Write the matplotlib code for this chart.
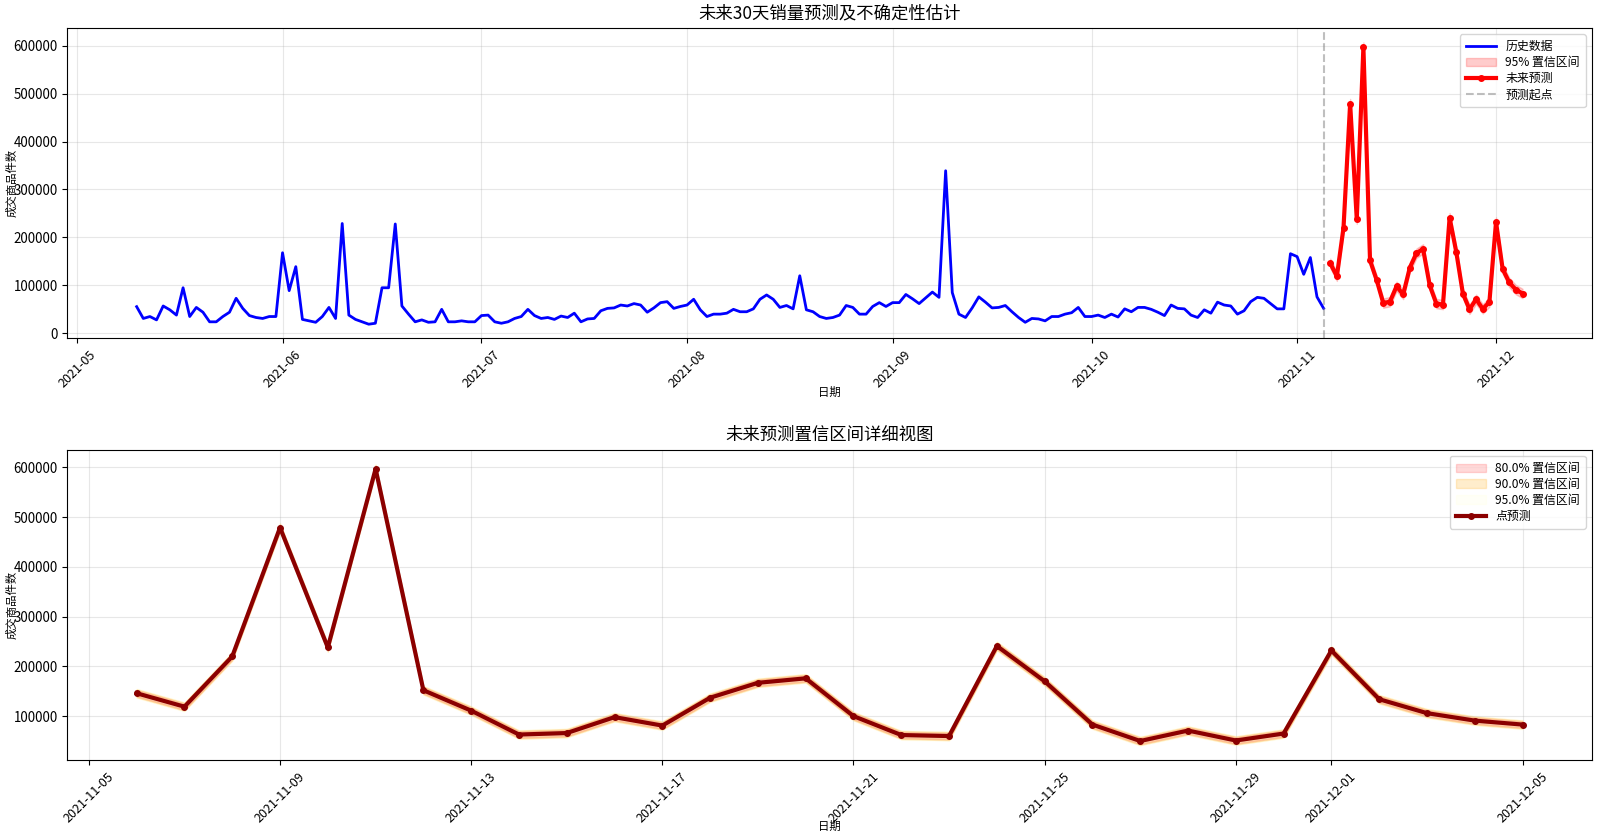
import matplotlib
matplotlib.use('Agg')
import matplotlib.pyplot as plt
import numpy as np
import pandas as pd

plt.rcParams['font.family'] = ['Noto Sans CJK SC', 'DejaVu Sans']
plt.rcParams['axes.unicode_minus'] = False

# ---------------- data ----------------
hist_start = '2021-05-10'
hist_values = [
    # May 10-31
    55600, 31000, 35000, 28000, 57000, 49000, 38000, 95000, 35000, 54000, 44000,
    24000, 24000, 35000, 44000, 73000, 52000, 37000, 33000, 31000, 35000, 35000,
    # June
    168000, 89000, 139000, 29000, 26000, 23000, 35000, 54000, 31000, 229000,
    38000, 29000, 24000, 19000, 21000, 95000, 95000, 228000, 57000, 40000,
    24000, 28000, 23000, 24000, 50000, 24000, 24000, 26000, 24000, 24000,
    # July
    37000, 38000, 24000, 21000, 24000, 31000, 35000, 50000, 37000, 31000,
    33000, 29000, 36000, 33000, 42000, 24000, 30000, 31000, 47000, 52000,
    53000, 59000, 57000, 62000, 59000, 44000, 53000, 64000, 66000, 52000, 56000,
    # August
    59000, 71000, 49000, 35000, 40000, 40000, 42000, 50000, 45000, 45000,
    51000, 71000, 80000, 71000, 54000, 58000, 51000, 120000, 49000, 45000,
    35000, 31000, 33000, 38000, 58000, 54000, 40000, 40000, 56000, 64000, 56000,
    # September
    64000, 64000, 81000, 72000, 62000, 74000, 86000, 75000, 339000, 85000,
    40000, 33000, 53000, 76000, 65000, 53000, 54000, 58000, 45000, 33000,
    23000, 31000, 30000, 26000, 35000, 35000, 40000, 43000, 54000, 35000,
    # October
    35000, 38000, 33000, 40000, 34000, 51000, 45000, 54000, 54000, 50000,
    44000, 37000, 59000, 52000, 51000, 38000, 33000, 49000, 42000, 65000,
    59000, 57000, 40000, 47000, 66000, 75000, 73000, 62000, 51000, 51000, 166000,
    # November 1-5
    160000, 123000, 158000, 76000, 52000,
]

fc_start = '2021-11-06'
fc_values = [
    146000, 119000, 220000, 479000, 238000, 597000, 152000, 111000, 63000, 66000,
    98000, 81000, 137000, 167000, 176000, 100000, 62000, 60000, 241000, 170000,
    83000, 50000, 71000, 51000, 65000, 232000, 134000, 106000, 91000, 83000,
]

ci_levels = [0.80, 0.90, 0.95]
ci_half_width = [6400, 8200, 9800]
ci_colors = ['red', 'orange', 'yellow']
ci_alphas = [0.15, 0.2, 0.03]

hist_dates = pd.date_range(hist_start, periods=len(hist_values), freq='D')
fc_dates = pd.date_range(fc_start, periods=len(fc_values), freq='D')
hist = np.array(hist_values, dtype=float)
fc = np.array(fc_values, dtype=float)

LABEL_FS = 8.2
LEGEND_FS = 8.6
TITLE_FS = 12.5
TICK_FS = 9.6
XTICK_FS = 9.1
legend_kw = dict(loc='upper right', fontsize=LEGEND_FS, labelspacing=0.25,
                 handlelength=2.5, borderpad=0.5)

# ---------------- figure ----------------
fig = plt.figure(figsize=(16, 8.38), dpi=100)
ax1 = fig.add_axes([0.0421, 0.5963, 0.9528, 0.370])
ax2 = fig.add_axes([0.0421, 0.0931, 0.9528, 0.370])

# top panel
ax1.plot(hist_dates, hist, color='blue', lw=2, label='历史数据')
hw95 = ci_half_width[2]
ax1.fill_between(fc_dates, fc - hw95, fc + hw95, color='red', alpha=0.2,
                 label='95% 置信区间')
ax1.plot(fc_dates, fc, color='red', lw=3, marker='o', markersize=4, label='未来预测')
ax1.axvline(hist_dates[-1], color='gray', ls='--', alpha=0.5, label='预测起点')
ax1.set_title('未来30天销量预测及不确定性估计', fontsize=TITLE_FS, pad=7)

# bottom panel
for lvl, hw, c, a in zip(ci_levels, ci_half_width, ci_colors, ci_alphas):
    ax2.fill_between(fc_dates, fc - hw, fc + hw, color=c, alpha=a,
                     label=f'{lvl*100:.1f}% 置信区间')
ax2.plot(fc_dates, fc, color='darkred', lw=3, marker='o', markersize=4, label='点预测')
ax2.set_title('未来预测置信区间详细视图', fontsize=TITLE_FS, pad=7)

for ax, xl_y in ((ax1, -0.157), (ax2, -0.195)):
    ax.set_xlabel('日期', fontsize=LABEL_FS)
    ax.set_ylabel('成交商品件数', fontsize=LABEL_FS)
    ax.xaxis.set_label_coords(0.5, xl_y)
    ax.yaxis.set_label_coords(-0.033, 0.5)
    ax.legend(**legend_kw)
    ax.grid(True, alpha=0.3)
    ax.tick_params(axis='x', rotation=45, labelsize=XTICK_FS)
    ax.tick_params(axis='y', labelsize=TICK_FS)

fig.savefig('out.png', dpi=100)
